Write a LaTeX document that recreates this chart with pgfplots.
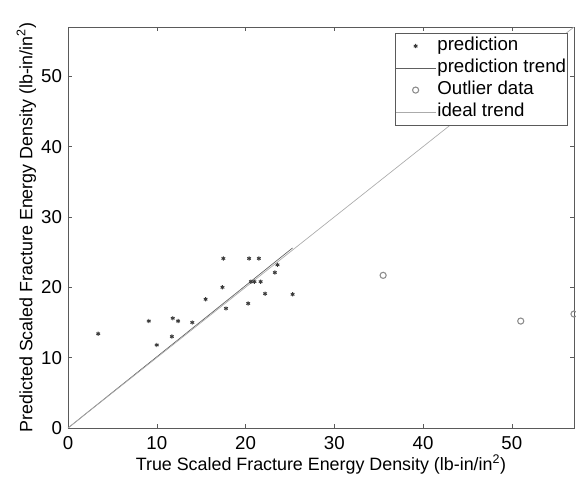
\documentclass[border=0pt]{standalone}
\usepackage{pgfplots}
\pgfplotsset{compat=1.18}
\usepackage{fontspec}
\setmainfont{Liberation Sans}

\definecolor{axisgray}{HTML}{5A5A5A}
\definecolor{predcol}{HTML}{3A3A3A}
\definecolor{trendcol}{HTML}{606060}
\definecolor{outcol}{HTML}{8C8C8C}
\definecolor{idealcol}{HTML}{ABABAB}

\pgfplotsset{
    longline/.style={legend image code/.code={
        \draw[##1] (0cm,0cm) -- (1.05cm,0cm);}},
    midmark/.style={legend image code/.code={
        \draw[##1] plot coordinates {(0.52cm,0cm)};}},
}

\begin{document}
\begin{tikzpicture}
\useasboundingbox (-51pt,-41.25pt) rectangle (381pt,321pt);
\begin{axis}[
    at={(0,0)}, anchor=south west,
    scale only axis,
    width=379.5pt, height=300.75pt,
    xmin=0, xmax=57, ymin=0, ymax=57,
    xtick={0,10,...,50}, ytick={0,10,...,50},
    tick align=inside, tick pos=both,
    major tick length=3pt,
    axis line style={axisgray},
    every tick/.style={axisgray},
    tick label style={font=\fontsize{14}{16}\selectfont},
    xticklabel style={yshift=-3pt},
    yticklabel style={xshift=-1pt},
    /pgf/number format/assume math mode=true,
    label style={font=\fontsize{13.4}{16}\selectfont},
    xlabel={True Scaled Fracture Energy Density (lb-in/in\textsuperscript{2})},
    ylabel={Predicted Scaled Fracture Energy Density (lb-in/in\textsuperscript{2})},
    xlabel style={yshift=3pt},
    ylabel style={yshift=-3pt},
    legend style={at={(0.9875,0.985)}, anchor=north east,
        draw=axisgray, fill=white, font=\fontsize{14}{15}\selectfont,
        row sep=3.3pt, inner xsep=0pt, inner ysep=3pt,
        nodes={text height=9.8pt, text depth=3.4pt, inner ysep=0pt,
               inner xsep=1pt}},
    legend cell align=left,
]
\addplot[only marks, mark=asterisk, mark size=1.6pt, predcol, line width=0.7pt,
    midmark]
coordinates {
    (3.4,13.4) (9.1,15.2) (10.0,11.8) (11.7,13.0) (11.8,15.6) (12.4,15.2)
    (14.0,15.0) (15.5,18.3) (17.5,24.1) (17.4,20.0) (17.8,17.0) (20.3,17.7)
    (20.4,24.1) (21.5,24.1) (20.6,20.8) (21.0,20.8) (21.7,20.8) (22.2,19.1)
    (23.3,22.1) (23.6,23.2) (25.3,19.0)
};
\addlegendentry{prediction}
\addplot[trendcol, line width=0.5pt, longline] coordinates {(0,0) (25.3,25.6)};
\addlegendentry{prediction trend}
\addplot[only marks, mark=o, mark size=2.3pt, outcol, line width=0.8pt, midmark]
coordinates {(35.5,21.7) (51.0,15.2) (57.0,16.2)};
\addlegendentry{Outlier data}
\addplot[idealcol, line width=0.5pt, longline] coordinates {(0,0) (57,57)};
\addlegendentry{ideal trend}
\end{axis}
\end{tikzpicture}
\end{document}
